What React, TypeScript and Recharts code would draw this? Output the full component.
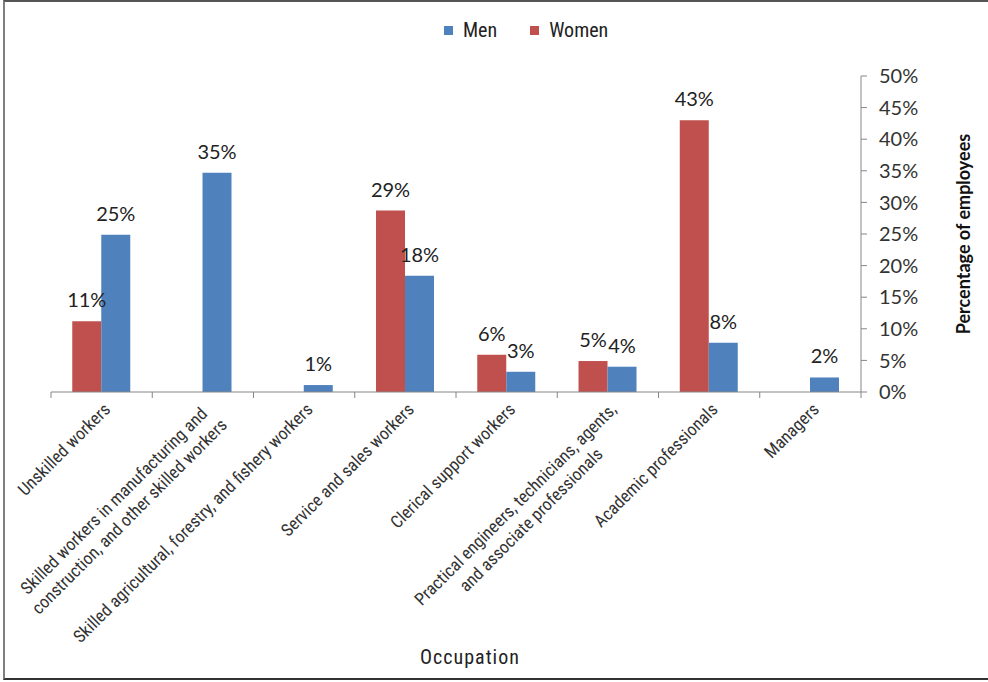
import React from "react";
import { Bar, BarChart, LabelList, XAxis, YAxis } from "recharts";

const categories = [
  "Unskilled workers",
  "Skilled workers in manufacturing and\nconstruction, and other skilled workers",
  "Skilled agricultural, forestry, and fishery workers",
  "Service and sales workers",
  "Clerical support workers",
  "Practical engineers, technicians, agents,\nand associate professionals",
  "Academic professionals",
  "Managers",
];
const women = [11.2, null, null, 28.7, 5.9, 4.9, 43.0, null];
const men = [24.9, 34.7, 1.1, 18.4, 3.2, 4.0, 7.8, 2.3];
const yTicks = [0, 5, 10, 15, 20, 25, 30, 35, 40, 45, 50];

const data = categories.map((c, i) => ({
  occupation: c,
  women: women[i],
  men: men[i],
}));

const W = 988;
const H = 682;
const PLOT_LEFT = 51;
const PLOT_RIGHT = 861;
const PLOT_TOP = 76;
const PLOT_BOTTOM = 392;
const BAND = (PLOT_RIGHT - PLOT_LEFT) / categories.length;

const RED = "#C0504D";
const BLUE = "#4F81BD";
const NARROW = "'Liberation Sans Narrow', 'Arial Narrow', 'Roboto Condensed', sans-serif";
const CAL = "Lato, 'Open Sans', sans-serif";
const CAT_FS = 17.5;
const CAT_LH = 22;

let ctx: CanvasRenderingContext2D | null = null;
function measure(text: string, font: string) {
  if (!ctx) ctx = document.createElement("canvas").getContext("2d");
  if (!ctx) return text.length * 8;
  ctx.font = font;
  return ctx.measureText(text).width;
}

function CategoryTick(props: any) {
  const { x, y, payload, index } = props;
  const lines = String(payload.value).split("\n");
  const font = `${CAT_FS}px ${NARROW}`;
  const maxW = Math.max(...lines.map((l) => measure(l, font)));
  const ax = x;
  const ay = y + 9;
  return (
    <g>
      <line x1={x - BAND / 2} x2={x - BAND / 2} y1={y} y2={y + 6} stroke="#868686" />
      {index === categories.length - 1 && (
        <line x1={x + BAND / 2} x2={x + BAND / 2} y1={y} y2={y + 6} stroke="#868686" />
      )}
      <g transform={`translate(${ax},${ay}) rotate(-45)`}>
        <text textAnchor="middle" fontFamily={NARROW} fontSize={CAT_FS} fill="#333">
          {lines.map((l, i) => (
            <tspan key={i} x={-maxW / 2} y={CAT_FS * 0.78 + i * CAT_LH}>
              {l}
            </tspan>
          ))}
        </text>
      </g>
    </g>
  );
}

function ValueLabel(props: any) {
  const { x, y, width, value } = props;
  if (value == null) return null;
  return (
    <text
      x={x + width / 2}
      y={y - 22}
      textAnchor="middle"
      dominantBaseline="central"
      fontFamily={CAL}
      fontSize={20}
      fill="#222"
    >
      {Math.round(value)}%
    </text>
  );
}

function YTitle(props: any) {
  const { viewBox } = props;
  const cx = viewBox.x + 102;
  const cy = viewBox.y + viewBox.height / 2;
  return (
    <text
      x={cx}
      y={cy}
      transform={`rotate(-90, ${cx}, ${cy})`}
      textAnchor="middle"
      dominantBaseline="central"
      fontFamily={CAL}
      fontWeight="bold"
      fontSize={18}
      fill="#111"
    >
      Percentage of employees
    </text>
  );
}

function XTitle(props: any) {
  const { viewBox } = props;
  return (
    <text
      x={viewBox.x + viewBox.width / 2 + 14}
      y={657}
      textAnchor="middle"
      dominantBaseline="central"
      fontFamily={NARROW}
      fontSize={20}
      letterSpacing={1}
      fill="#222"
    >
      Occupation
    </text>
  );
}

const legendItems = [
  { name: "Men", color: BLUE },
  { name: "Women", color: RED },
];

export default function App() {
  return (
    <div
      style={{
        position: "absolute",
        left: 0,
        top: 0,
        width: W,
        height: H,
        background: "#fff",
        overflow: "hidden",
      }}
    >
      <div
        style={{
          position: "absolute",
          left: 3,
          top: 0,
          width: W,
          height: H - 2,
          borderLeft: "2px solid #7f7f7f",
          borderTop: "2px solid #555",
          borderBottom: "2px solid #333",
          boxSizing: "border-box",
        }}
      />
      <div
        style={{
          position: "absolute",
          top: 18,
          left: 444,
          display: "flex",
          alignItems: "center",
          fontFamily: NARROW,
          fontSize: 20,
          color: "#222",
        }}
      >
        {legendItems.map((it) => (
          <div key={it.name} style={{ display: "flex", alignItems: "center", marginRight: 33 }}>
            <span
              style={{ width: 9, height: 9, background: it.color, display: "inline-block", marginRight: 10 }}
            />
            <span>{it.name}</span>
          </div>
        ))}
      </div>
      <BarChart
        width={W}
        height={H}
        data={data}
        margin={{ top: PLOT_TOP, left: PLOT_LEFT, right: 0, bottom: 0 }}
        barCategoryGap="21%"
        barGap={0}
        style={{ position: "absolute", left: 0, top: 0 }}
      >
        <XAxis
          dataKey="occupation"
          height={H - PLOT_BOTTOM}
          interval={0}
          tickSize={0}
          tickMargin={0}
          tickLine={false}
          axisLine={{ stroke: "#868686" }}
          tick={<CategoryTick />}
          label={{ content: <XTitle /> }}
        />
        <YAxis
          orientation="right"
          width={W - PLOT_RIGHT}
          domain={[0, 50]}
          ticks={yTicks}
          interval={0}
          tickSize={6}
          tickMargin={12}
          axisLine={{ stroke: "#868686" }}
          tickLine={{ stroke: "#868686" }}
          tickFormatter={(v) => `${v}%`}
          tick={{ fontFamily: CAL, fontSize: 20, fill: "#333", textAnchor: "start" }}
          label={{ content: <YTitle /> }}
        />
        <Bar dataKey="women" name="Women" fill={RED} isAnimationActive={false}>
          <LabelList dataKey="women" content={<ValueLabel />} />
        </Bar>
        <Bar dataKey="men" name="Men" fill={BLUE} isAnimationActive={false}>
          <LabelList dataKey="men" content={<ValueLabel />} />
        </Bar>
      </BarChart>
    </div>
  );
}
